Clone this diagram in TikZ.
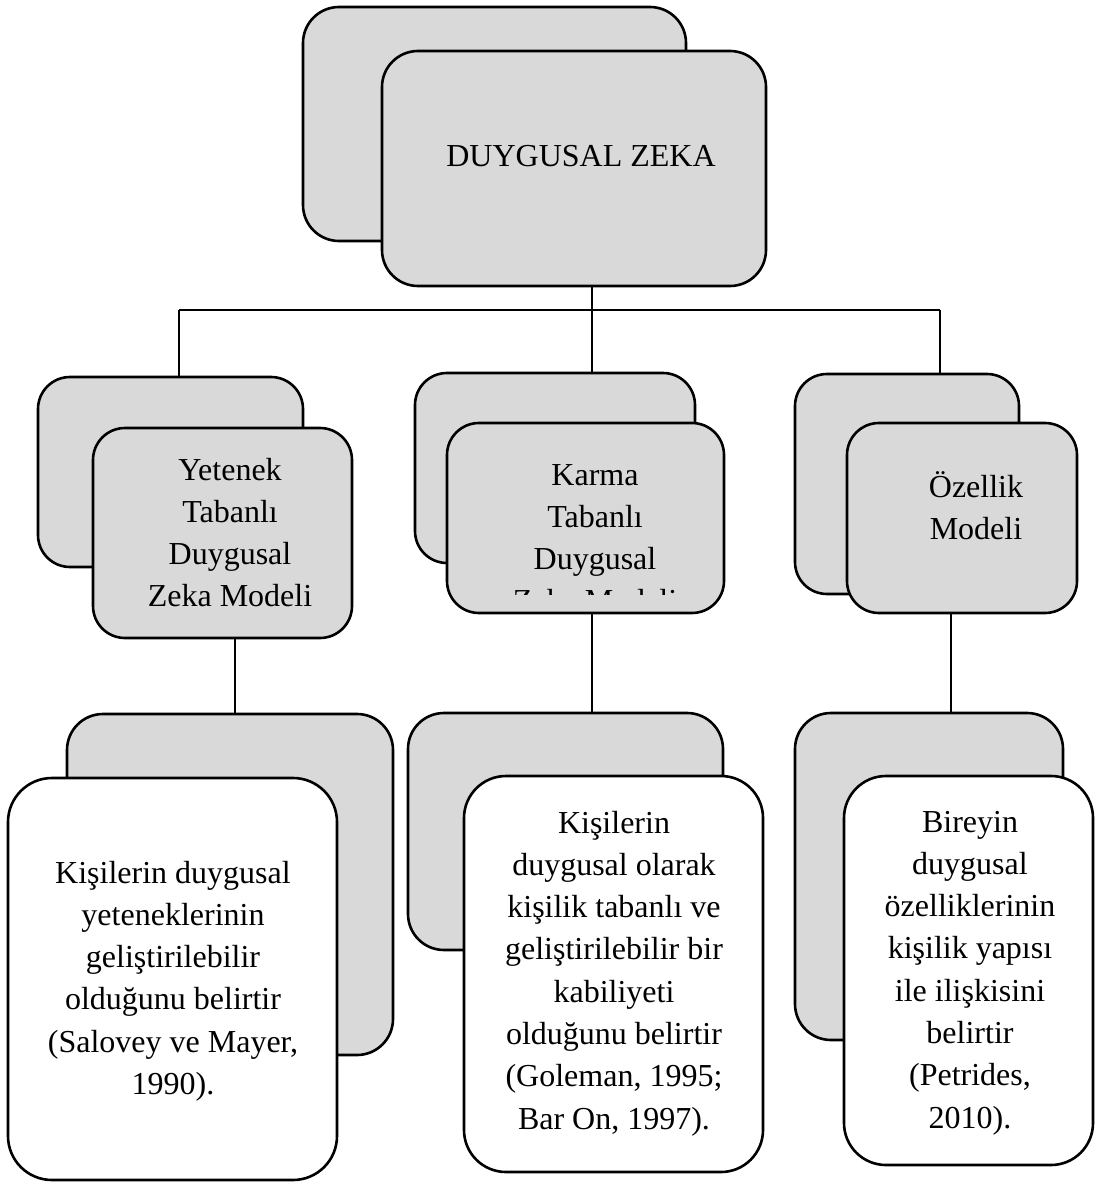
\documentclass[tikz,border=0pt]{standalone}
\usepackage{fontspec}
\setmainfont{Liberation Serif}
\definecolor{boxgray}{HTML}{D9D9D9}
\newcommand{\txtlines}[1]{\begin{tabular}[t]{@{}c@{}}#1\end{tabular}}
\tikzset{
  gbox/.style={draw=black, line width=2.6pt, fill=boxgray, inner sep=0pt, outer sep=0pt},
  wbox/.style={draw=black, line width=2.6pt, fill=white, inner sep=0pt, outer sep=0pt},
  lbl/.style={inner sep=0pt, outer sep=0pt, anchor=base, font=\fontsize{32}{42.3}\selectfont},
  conn/.style={draw=black, line width=1.1pt}
}
\begin{document}
\begin{tikzpicture}[x=1pt,y=-1pt]
\useasboundingbox (0,0) rectangle (1098,1182);
% junction coordinates
\coordinate (jl) at (179,310);
\coordinate (jc) at (592,310);
\coordinate (jr) at (940,310);
\coordinate (xl) at (235,0);
\coordinate (xm) at (592,0);
\coordinate (xr) at (951,0);

% top level
\node[gbox, rounded corners=36pt, minimum width=383pt, minimum height=234pt] (topb) at (494.5,124) {};
\node[gbox, rounded corners=36pt, minimum width=384pt, minimum height=235pt] (topf) at (574,168.5) {};
\node[lbl] (toptxt) at (581,167) {DUYGUSAL ZEKA};

% second level backs
\node[gbox, rounded corners=32pt, minimum width=265pt, minimum height=190pt] (lb) at (170.5,472) {};
\node[gbox, rounded corners=32pt, minimum width=280pt, minimum height=190pt] (mb) at (555,468) {};
\node[gbox, rounded corners=32pt, minimum width=224pt, minimum height=220pt] (rb) at (907,484) {};

% connectors level 1 -> 2
\draw[conn] (jc |- topf.south) -- (jc |- mb.north);
\draw[conn] (jl) -- (jr);
\draw[conn] (jl) -- (jl |- lb.north);
\draw[conn] (jr) -- (jr |- rb.north);

% second level fronts
\node[gbox, rounded corners=32pt, minimum width=259pt, minimum height=210pt] (lf) at (222.5,533) {};
\node[gbox, rounded corners=32pt, minimum width=277pt, minimum height=190pt] (mf) at (585.5,518) {};
\node[gbox, rounded corners=32pt, minimum width=230pt, minimum height=190pt] (rf) at (962,518) {};

\node[lbl] (ltxt) at (230,480) {\txtlines{Yetenek\\Tabanlı\\Duygusal\\Zeka Modeli}};
\node[lbl] (mtxt) at (595,485) {\txtlines{Karma\\Tabanlı\\Duygusal}};
\begin{scope}
  \clip (447,588) rectangle (724,594);
  \node[lbl] (mtxtcut) at (595,611.9) {Zeka Modeli};
\end{scope}
\node[lbl] (rtxt) at (976,497) {\txtlines{Özellik\\Modeli}};

% third level backs
\node[gbox, rounded corners=36pt, minimum width=326pt, minimum height=341pt] (lb3) at (230,884.5) {};
\node[gbox, rounded corners=36pt, minimum width=315pt, minimum height=237pt] (mb3) at (565.5,831.5) {};
\node[gbox, rounded corners=36pt, minimum width=268pt, minimum height=327pt] (rb3) at (929,876.5) {};

% connectors level 2 -> 3
\draw[conn] (xl |- lf.south) -- (xl |- lb3.north);
\draw[conn] (xm |- mf.south) -- (xm |- mb3.north);
\draw[conn] (xr |- rf.south) -- (xr |- rb3.north);

% third level fronts
\node[wbox, rounded corners=44pt, minimum width=329pt, minimum height=402pt] (lf3) at (172.5,979) {};
\node[wbox, rounded corners=42pt, minimum width=299pt, minimum height=396pt] (mf3) at (613.5,974) {};
\node[wbox, rounded corners=42pt, minimum width=249pt, minimum height=389pt] (rf3) at (968.5,970.5) {};

\node[lbl] (l3txt) at (173,883) {\txtlines{Kişilerin duygusal\\yeteneklerinin\\geliştirilebilir\\olduğunu belirtir\\(Salovey ve Mayer,\\1990).}};
\node[lbl] (m3txt) at (614,833) {\txtlines{Kişilerin\\duygusal olarak\\kişilik tabanlı ve\\geliştirilebilir bir\\kabiliyeti\\olduğunu belirtir\\(Goleman, 1995;\\Bar On, 1997).}};
\node[lbl] (r3txt) at (970,832) {\txtlines{Bireyin\\duygusal\\özelliklerinin\\kişilik yapısı\\ile ilişkisini\\belirtir\\(Petrides,\\2010).}};
\end{tikzpicture}
\end{document}
